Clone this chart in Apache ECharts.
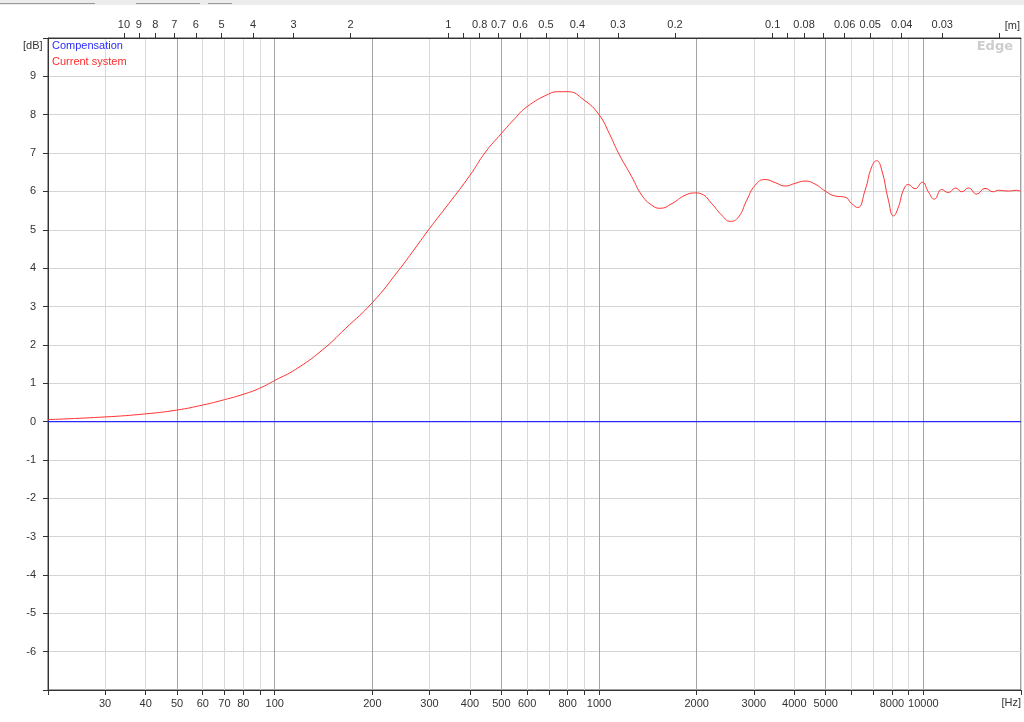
<!DOCTYPE html>
<html lang="en">
<head>
  <meta charset="UTF-8">
  <title>Current system vs compensation</title>
  <style>
    html, body { margin: 0; padding: 0; background: #ffffff; }
  </style>
</head>
<body>
<div id="main" style="width:1024px; height:722px;"></div>

<script src="https://cdn.jsdelivr.net/npm/echarts@6/dist/echarts.min.js"></script>

<script>
// measured response (Hz / dB)
var freqHz = [20, 30, 40, 50, 60, 70, 80, 90, 100, 116, 140, 165, 200, 241, 270, 300, 344, 400, 447, 500, 550, 600,
  700, 750, 800, 900, 1000, 1077, 1148, 1262, 1355, 1455, 1544, 1676, 1843, 1980, 2074, 2227, 2390, 2537,
  2691, 2854, 3029, 3252, 3491, 3749, 4024, 4319, 4638, 4979, 5345, 5737, 6013, 6273, 6612, 6930, 7180,
  7439, 7803, 8086, 8375, 8677, 8990, 9428, 9929, 10360, 10810, 11390, 11940, 12580, 13120, 13770, 14600,
  15490, 16430, 17030, 18280, 19350, 20000];
var currentDb = [0.05, 0.12, 0.2, 0.3, 0.43, 0.57, 0.71, 0.87, 1.07, 1.36, 1.86, 2.42, 3.1, 3.94, 4.5, 5.03, 5.68,
  6.42, 7.03, 7.51, 7.9, 8.21, 8.54, 8.6, 8.6, 8.38, 8.0, 7.5, 7.0, 6.38, 5.9, 5.64, 5.56, 5.68, 5.9, 5.96, 5.93,
  5.68, 5.38, 5.22, 5.33, 5.77, 6.16, 6.31, 6.23, 6.14, 6.21, 6.27, 6.19, 6.01, 5.88, 5.85, 5.68, 5.58, 6.03,
  6.64, 6.8, 6.56, 5.77, 5.36, 5.59, 6.03, 6.18, 6.07, 6.24, 5.99, 5.8, 6.05, 5.97, 6.09, 5.99, 6.09, 5.93,
  6.08, 5.99, 6.03, 6.01, 6.03, 6.0];

var compFreqHz = [20, 20000];
var compDb = [0, 0];

// axis ticks / labels
var bottomLabelHz = [30, 40, 50, 60, 70, 80, 100, 200, 300, 400, 500, 600, 800, 1000, 2000, 3000, 4000, 5000, 8000, 10000];
var bottomTickHz = [20, 30, 40, 50, 60, 70, 80, 90, 100, 200, 300, 400, 500, 600, 700, 800, 900, 1000,
  2000, 3000, 4000, 5000, 6000, 7000, 8000, 9000, 10000, 20000];
var majorGridHz = [50, 100, 200, 500, 1000, 2000, 5000, 10000];
var topLabelM = [10, 9, 8, 7, 6, 5, 4, 3, 2, 1, 0.8, 0.7, 0.6, 0.5, 0.4, 0.3, 0.2, 0.1, 0.08, 0.06, 0.05, 0.04, 0.03];
var topTickM = [10, 9, 8, 7, 6, 5, 4, 3, 2, 1, 0.9, 0.8, 0.7, 0.6, 0.5, 0.4, 0.3, 0.2, 0.1, 0.09, 0.08, 0.07,
  0.06, 0.05, 0.04, 0.03, 0.02];
var speedOfSound = 343;

var toHz = function (m) { return speedOfSound / m; };
var pairs = function (xs, ys) {
  return xs.map(function (x, i) { return [x, ys[i]]; });
};

var labelFont = 'Liberation Sans, Arial, sans-serif';
var axisColor = '#333333';

var chart = echarts.init(document.getElementById('main'));

var option = {
  backgroundColor: '#ffffff',
  animation: false,
  grid: {
    left: 48, right: 3, top: 38, bottom: 32,
    show: true,
    backgroundColor: '#ffffff',
    borderColor: '#444444',
    borderWidth: 1,
    outerBoundsMode: 'none'
  },
  legend: {
    orient: 'vertical',
    left: 46,
    top: 40,
    padding: 0,
    itemWidth: 0,
    itemHeight: 0,
    itemGap: 4,
    selectedMode: false,
    data: [
      { name: 'Compensation', textStyle: { color: '#2b2bff' } },
      { name: 'Current system', textStyle: { color: '#ff2a2a' } }
    ],
    textStyle: { fontSize: 11, fontFamily: labelFont, lineHeight: 12 }
  },
  xAxis: [
    {
      type: 'log', min: 20, max: 20000, position: 'bottom',
      axisLine: { onZero: false, lineStyle: { color: axisColor } },
      axisTick: { customValues: bottomTickHz, length: 5, lineStyle: { color: axisColor } },
      axisLabel: {
        customValues: bottomLabelHz, margin: 8, fontSize: 11, fontFamily: labelFont, color: '#333',
        formatter: function (v) { return String(Math.round(v)); }
      },
      splitLine: { show: true, lineStyle: { color: '#d9d9d9', width: 1 } }
    },
    {
      type: 'log', min: 20, max: 20000, position: 'bottom',
      axisLine: { show: false, onZero: false, lineStyle: { color: 'rgba(0,0,0,0)' } },
      axisTick: { show: false, customValues: majorGridHz },
      axisLabel: { show: false },
      splitLine: { show: true, lineStyle: { color: '#a3a3a3', width: 1 } }
    },
    {
      type: 'log', min: 20, max: 20000, position: 'top',
      axisLine: { onZero: false, lineStyle: { color: axisColor } },
      axisTick: { customValues: topTickM.map(toHz), length: 5, lineStyle: { color: axisColor } },
      axisLabel: {
        customValues: topLabelM.map(toHz), margin: 8, fontSize: 11, fontFamily: labelFont, color: '#333',
        formatter: function (v) { return String(+(speedOfSound / v).toFixed(2)); }
      },
      splitLine: { show: false }
    }
  ],
  yAxis: {
    type: 'value', min: -7, max: 10, interval: 1,
    axisLine: { show: true, onZero: false, lineStyle: { color: axisColor } },
    axisTick: { show: true, length: 5, lineStyle: { color: axisColor } },
    axisLabel: {
      margin: 12, fontSize: 11, fontFamily: labelFont, color: '#333',
      formatter: function (v) { return (v <= -7 || v >= 10) ? '' : String(v); }
    },
    splitLine: { show: true, lineStyle: { color: '#d4d4d4', width: 1 } }
  },
  graphic: [
    { type: 'rect', left: 0, top: 0, shape: { width: 1024, height: 5 }, style: { fill: '#ececec' } },
    { type: 'rect', left: 0, top: 3, shape: { width: 95, height: 1 }, style: { fill: '#9a9a9a' } },
    { type: 'rect', left: 136, top: 3, shape: { width: 64, height: 1 }, style: { fill: '#9a9a9a' } },
    { type: 'rect', left: 208, top: 3, shape: { width: 24, height: 1 }, style: { fill: '#9a9a9a' } },
    { type: 'text', right: 4, top: 20, style: { text: '[m]', fontSize: 11, fontFamily: labelFont, fill: '#333' } },
    { type: 'text', right: 3, top: 697, style: { text: '[Hz]', fontSize: 11, fontFamily: labelFont, fill: '#333' } },
    { type: 'text', left: 23, top: 40, style: { text: '[dB]', fontSize: 11, fontFamily: labelFont, fill: '#333' } },
    { type: 'text', right: 11, top: 40, style: { text: 'Edge', fontSize: 13, fontWeight: 'bold', fontFamily: 'DejaVu Sans, sans-serif', fill: '#cdcdcd' } }
  ],
  series: [
    {
      name: 'Compensation',
      type: 'line',
      xAxisIndex: 0,
      z: 10,
      showSymbol: false,
      symbol: 'none',
      lineStyle: { color: '#2828ff', width: 1.3 },
      itemStyle: { color: '#2828ff' },
      data: pairs(compFreqHz, compDb)
    },
    {
      name: 'Current system',
      type: 'line',
      xAxisIndex: 0,
      z: 11,
      smooth: 0.5,
      showSymbol: false,
      symbol: 'none',
      lineStyle: { color: '#ff3333', width: 1 },
      itemStyle: { color: '#ff3333' },
      data: pairs(freqHz, currentDb)
    }
  ]
};

chart.setOption(option);
</script>
</body>
</html>
